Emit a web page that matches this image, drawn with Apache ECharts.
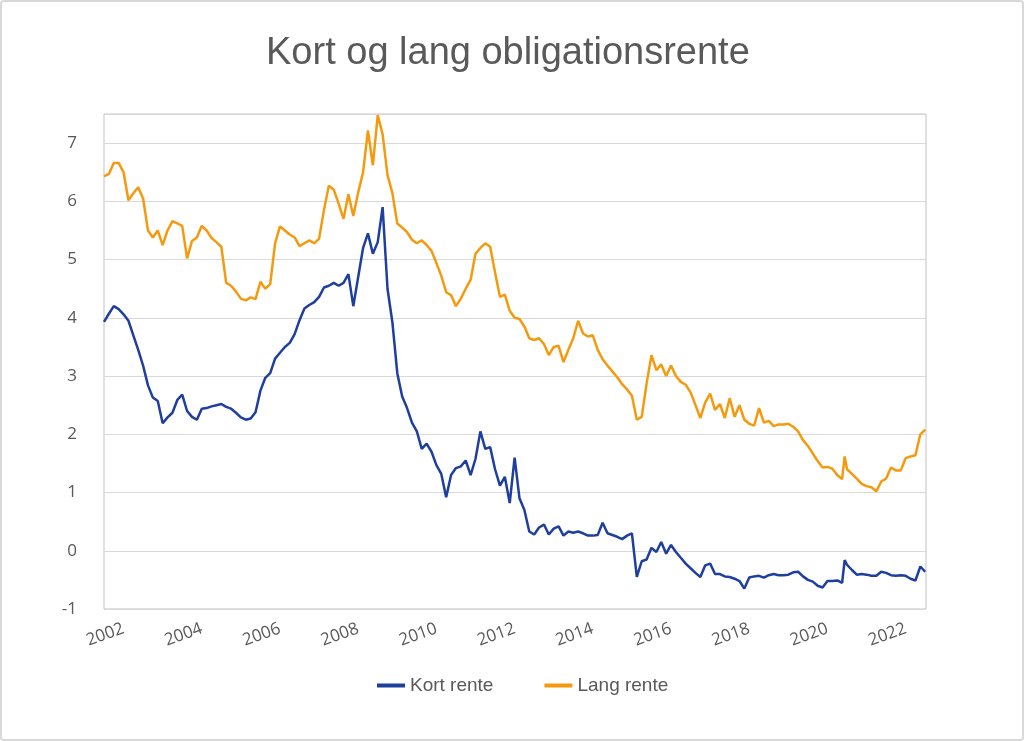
<!DOCTYPE html>
<html>
<head>
<meta charset="utf-8">
<script src="https://cdn.jsdelivr.net/npm/echarts@6/dist/echarts.min.js"></script>
<style>
  html, body { margin: 0; padding: 0; background: #fff; }
  #chart { width: 1024px; height: 741px; }
</style>
</head>
<body>
<div id="chart"></div>
<script>
// decimal years
const dates = [
  2001.5, 2001.625, 2001.75, 2001.875, 2002.0, 2002.125, 2002.25, 2002.375, 2002.5, 2002.625, 2002.75, 2002.875,
  2003.0, 2003.125, 2003.25, 2003.375, 2003.5, 2003.625, 2003.75, 2003.875, 2004.0, 2004.125, 2004.25, 2004.375,
  2004.5, 2004.625, 2004.75, 2004.875, 2005.0, 2005.125, 2005.25, 2005.375, 2005.5, 2005.625, 2005.75, 2005.875,
  2006.0, 2006.125, 2006.25, 2006.375, 2006.5, 2006.625, 2006.75, 2006.875, 2007.0, 2007.125, 2007.25, 2007.375,
  2007.5, 2007.625, 2007.75, 2007.875, 2008.0, 2008.125, 2008.25, 2008.375, 2008.5, 2008.625, 2008.75, 2008.875,
  2009.0, 2009.125, 2009.25, 2009.375, 2009.5, 2009.625, 2009.75, 2009.875, 2010.0, 2010.125, 2010.25, 2010.375,
  2010.5, 2010.625, 2010.75, 2010.875, 2011.0, 2011.125, 2011.25, 2011.375, 2011.5, 2011.625, 2011.75, 2011.875,
  2012.0, 2012.125, 2012.25, 2012.375, 2012.5, 2012.625, 2012.75, 2012.875, 2013.0, 2013.125, 2013.25, 2013.375,
  2013.5, 2013.625, 2013.75, 2013.875, 2014.0, 2014.125, 2014.25, 2014.375, 2014.5, 2014.625, 2014.75, 2014.875,
  2015.0, 2015.125, 2015.25, 2015.375, 2015.5, 2015.625, 2015.75, 2015.875, 2016.0, 2016.125, 2016.25, 2016.375,
  2016.5, 2016.625, 2016.75, 2016.875, 2017.0, 2017.125, 2017.25, 2017.375, 2017.5, 2017.625, 2017.75, 2017.875,
  2018.0, 2018.125, 2018.25, 2018.375, 2018.5, 2018.625, 2018.75, 2018.875, 2019.0, 2019.125, 2019.25, 2019.375,
  2019.5, 2019.625, 2019.75, 2019.875, 2020.0, 2020.125, 2020.25, 2020.375, 2020.41, 2020.44, 2020.5, 2020.625,
  2020.75, 2020.875, 2021.0, 2021.125, 2021.25, 2021.375, 2021.5, 2021.625, 2021.75, 2021.875, 2022.0, 2022.125,
  2022.25, 2022.375, 2022.5
]

const kortRente = [
  3.93, 4.07, 4.20, 4.15, 4.06, 3.95, 3.70, 3.45, 3.18, 2.84, 2.63, 2.57,
  2.19, 2.29, 2.37, 2.59, 2.68, 2.40, 2.30, 2.25, 2.44, 2.45, 2.48, 2.50,
  2.52, 2.47, 2.44, 2.37, 2.29, 2.25, 2.27, 2.38, 2.75, 2.97, 3.05, 3.30,
  3.40, 3.50, 3.57, 3.72, 3.96, 4.16, 4.22, 4.27, 4.36, 4.52, 4.55, 4.60,
  4.55, 4.60, 4.75, 4.20, 4.70, 5.20, 5.45, 5.10, 5.30, 5.90, 4.50, 3.92,
  3.05, 2.65, 2.45, 2.20, 2.05, 1.75, 1.84, 1.70, 1.47, 1.32, 0.92, 1.30,
  1.42, 1.45, 1.55, 1.30, 1.58, 2.05, 1.75, 1.78, 1.40, 1.12, 1.27, 0.82,
  1.60, 0.90, 0.70, 0.33, 0.28, 0.40, 0.45, 0.28, 0.38, 0.42, 0.26, 0.33,
  0.31, 0.33, 0.30, 0.26, 0.26, 0.27, 0.48, 0.30, 0.27, 0.24, 0.20, 0.26,
  0.30, -0.45, -0.18, -0.15, 0.05, -0.02, 0.15, -0.05, 0.10, -0.02, -0.12, -0.22,
  -0.30, -0.38, -0.45, -0.25, -0.22, -0.40, -0.40, -0.44, -0.45, -0.48, -0.52, -0.65,
  -0.46, -0.44, -0.43, -0.46, -0.42, -0.40, -0.42, -0.42, -0.41, -0.37, -0.36, -0.44,
  -0.50, -0.53, -0.60, -0.63, -0.52, -0.52, -0.51, -0.55, -0.58, -0.16, -0.24, -0.33,
  -0.41, -0.40, -0.41, -0.43, -0.43, -0.36, -0.38, -0.42, -0.43, -0.42, -0.43, -0.48,
  -0.51, -0.27, -0.36
]

const langRente = [
  6.43, 6.47, 6.66, 6.66, 6.50, 6.02, 6.14, 6.24, 6.05, 5.50, 5.38, 5.50,
  5.25, 5.50, 5.66, 5.62, 5.58, 5.02, 5.32, 5.38, 5.58, 5.50, 5.37, 5.30,
  5.22, 4.60, 4.55, 4.45, 4.33, 4.30, 4.35, 4.32, 4.62, 4.50, 4.58, 5.28,
  5.57, 5.50, 5.43, 5.38, 5.23, 5.28, 5.33, 5.28, 5.36, 5.85, 6.27, 6.20,
  5.96, 5.70, 6.12, 5.75, 6.15, 6.50, 7.22, 6.62, 7.48, 7.15, 6.45, 6.14,
  5.62, 5.55, 5.47, 5.34, 5.28, 5.33, 5.25, 5.15, 4.94, 4.72, 4.44, 4.39,
  4.20, 4.33, 4.50, 4.65, 5.10, 5.20, 5.28, 5.22, 4.78, 4.36, 4.40, 4.12,
  4.00, 3.98, 3.85, 3.65, 3.62, 3.65, 3.55, 3.36, 3.50, 3.52, 3.24, 3.45,
  3.65, 3.95, 3.73, 3.68, 3.70, 3.45, 3.29, 3.18, 3.08, 2.98, 2.86, 2.77,
  2.66, 2.25, 2.30, 2.87, 3.36, 3.10, 3.20, 3.00, 3.18, 3.00, 2.90, 2.85,
  2.72, 2.50, 2.28, 2.55, 2.70, 2.42, 2.52, 2.28, 2.62, 2.30, 2.50, 2.25,
  2.18, 2.15, 2.45, 2.20, 2.23, 2.14, 2.17, 2.17, 2.18, 2.13, 2.05, 1.90,
  1.80, 1.67, 1.54, 1.43, 1.44, 1.41, 1.30, 1.23, 1.24, 1.62, 1.40, 1.32,
  1.24, 1.15, 1.11, 1.09, 1.02, 1.19, 1.24, 1.43, 1.38, 1.38, 1.59, 1.62,
  1.64, 2.00, 2.08
]

const yearLabels = [2002, 2004, 2006, 2008, 2010, 2012, 2014, 2016, 2018, 2020, 2022]

const chart = echarts.init(document.getElementById('chart'), null, { renderer: 'canvas' })

const labelColor = '#595959'

chart.setOption({
  animation: false,
  backgroundColor: '#fff',
  title: {
    text: 'Kort og lang obligationsrente',
    left: 261,
    top: 30,
    textStyle: {
      color: labelColor,
      fontSize: 38,
      fontWeight: 'normal',
      fontFamily: 'Liberation Sans',
    },
  },
  legend: {
    left: 372,
    top: 671,
    itemWidth: 28,
    itemHeight: 4,
    itemGap: 51,
    icon: 'rect',
    textStyle: {
      color: labelColor,
      fontSize: 19,
      fontFamily: 'Liberation Sans',
    },
    data: ['Kort rente', 'Lang rente'],
  },
  graphic: [
    {
      type: 'rect',
      silent: true,
      shape: { x: 1, y: 1, width: 1022, height: 739, r: 3 },
      style: { fill: 'none', stroke: '#d9d9d9', lineWidth: 2 },
    },
  ],
  grid: {
    left: 104,
    right: 98,
    top: 114,
    bottom: 132,
    show: true,
    borderColor: '#c3c3c3',
    borderWidth: 1,
  },
  xAxis: {
    type: 'value',
    min: 2001.5,
    max: 2022.52,
    axisLine: { show: false },
    axisTick: { show: false },
    splitLine: { show: false },
    axisLabel: {
      customValues: yearLabels,
      rotate: 20,
      margin: 19,
      color: labelColor,
      fontSize: 17,
      fontFamily: 'Open Sans',
      formatter: (v) => String(v),
    },
  },
  yAxis: {
    type: 'value',
    min: -1,
    max: 7.5,
    interval: 1,
    axisLine: { show: false },
    axisTick: { show: false },
    splitLine: { lineStyle: { color: '#d9d9d9', width: 1 } },
    axisLabel: {
      showMaxLabel: false,
      margin: 27,
      color: labelColor,
      fontSize: 17,
      fontFamily: 'Open Sans',
    },
  },
  series: [
    {
      name: 'Kort rente',
      type: 'line',
      showSymbol: false,
      color: '#1f3f9e',
      lineStyle: { width: 2.5, color: '#1f3f9e' },
      data: dates.map((d, i) => [d, kortRente[i]]),
    },
    {
      name: 'Lang rente',
      type: 'line',
      showSymbol: false,
      color: '#f59a0e',
      lineStyle: { width: 2.5, color: '#f59a0e' },
      data: dates.map((d, i) => [d, langRente[i]]),
    },
  ],
})
</script>
</body>
</html>
